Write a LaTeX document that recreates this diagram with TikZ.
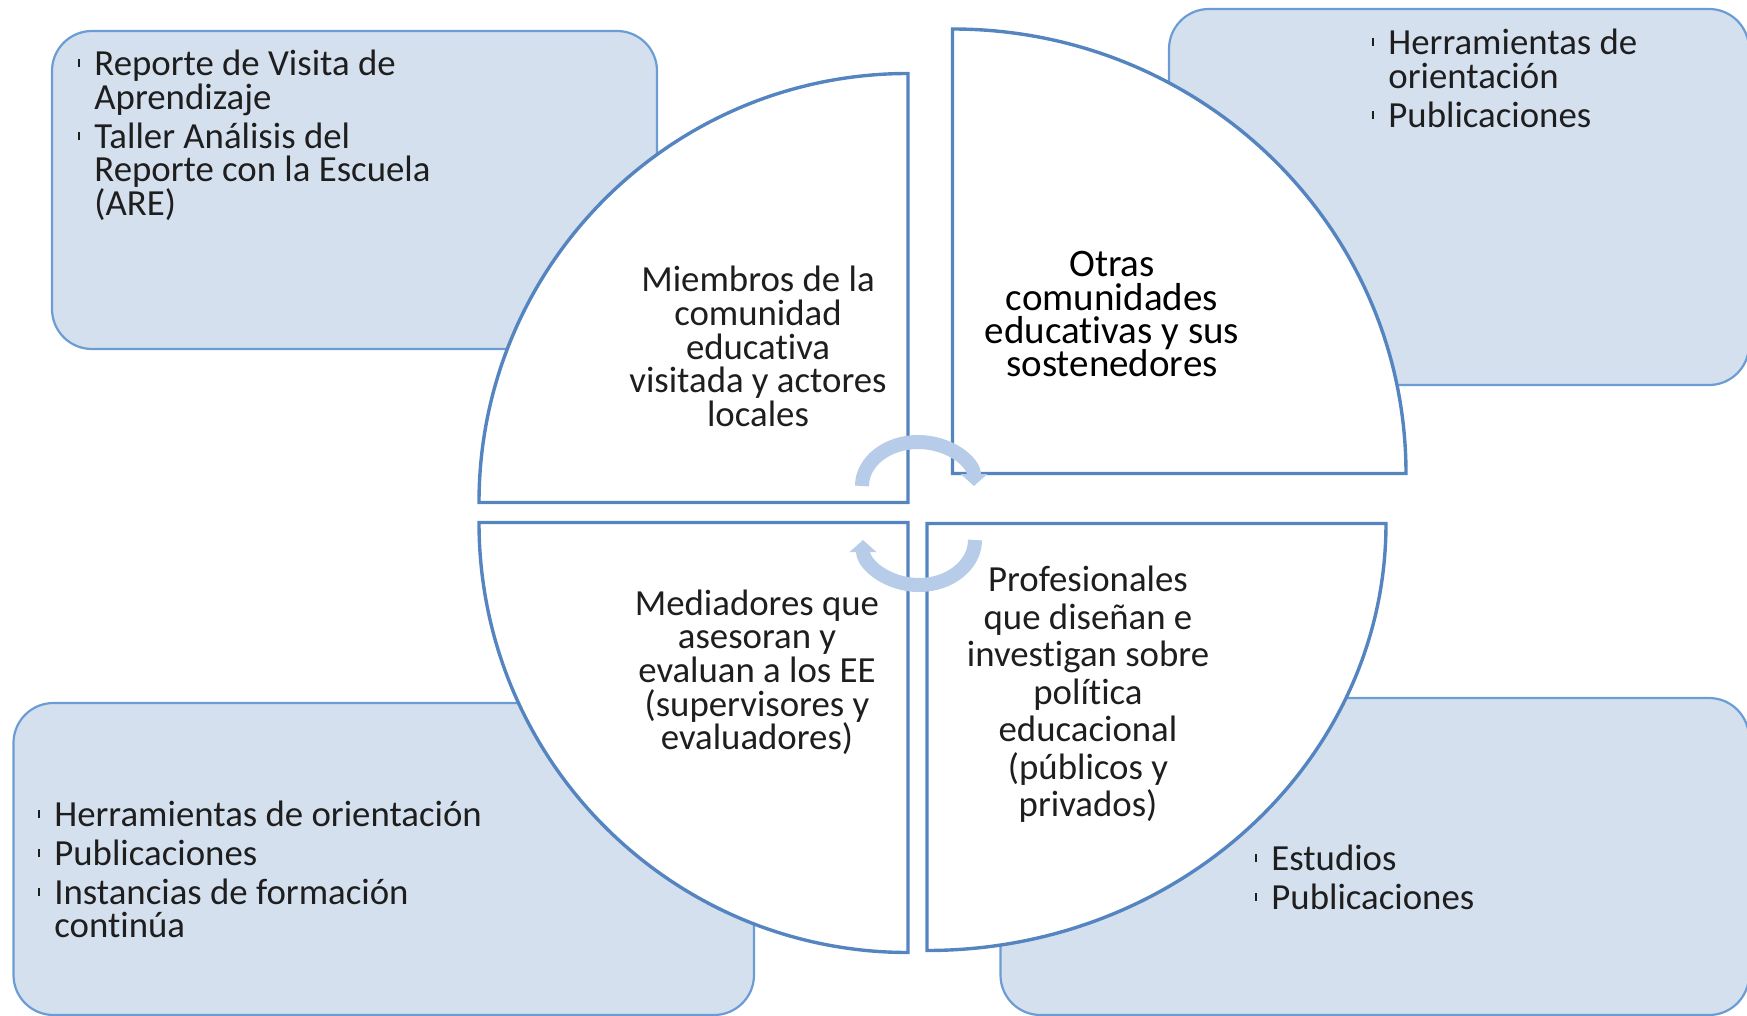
\documentclass[tikz,border=0pt]{standalone}
\usepackage{fontspec}
\setmainfont{Carlito}[Ligatures=NoCommon]
\usetikzlibrary{arrows.meta}
\definecolor{boxfill}{HTML}{D5E0EF}
\definecolor{boxline}{HTML}{6C9CD4}
\definecolor{pieline}{HTML}{5585C0}
\definecolor{cyclefill}{HTML}{B7CCE8}
\definecolor{textdark}{HTML}{1E1E1E}
\newcommand{\tick}{\raisebox{4.2pt}{\rule{0.9pt}{4pt}}\hspace{7.1pt}}
\newcommand{\centerlines}[1]{\vtop{\lineskiplimit=-\maxdimen\halign{\hfil##\hfil\cr#1\crcr}}}
\newcommand{\listlines}[1]{\vtop{\lineskiplimit=-\maxdimen\halign{##\hfil&##\hfil\cr#1\crcr}}}
\newcommand{\itemgap}{\noalign{\vskip2.7pt}}

\begin{document}
\begin{tikzpicture}[x=0.5pt, y=-0.5pt,
  infobox/.style={draw=boxline, fill=boxfill, line width=1.1pt, rounded corners=20pt, inner sep=0pt},
  piece/.style={draw=pieline, fill=white, line width=1.7pt, line join=miter},
  listtext/.style={anchor=base west, inner sep=0pt, text=textdark, font=\fontsize{18.4pt}{16.85pt}\selectfont},
  midtext/.style={anchor=base, inner sep=0pt, text=textdark, font=\fontsize{18.4pt}{16.85pt}\selectfont},
  cyclearrow/.style={cyclefill, line width=7pt, -{Triangle[length=6pt,width=13pt]}}]
  \useasboundingbox (0,0) rectangle (1747,1016);

  \node[infobox, minimum width=302.5pt, minimum height=159pt] (boxTL) at (354.5,190) {};
  \node[infobox, minimum width=290pt, minimum height=188pt] (boxTR) at (1459,197) {};
  \node[infobox, minimum width=370.25pt, minimum height=156pt] (boxBL) at (383.75,859) {};
  \node[infobox, minimum width=374.25pt, minimum height=158.5pt] (boxBR) at (1374.75,856.5) {};

  \coordinate (cTL) at (908,502.5);
  \coordinate (cTR) at (952.5,473.5);
  \coordinate (cBL) at (908,522.5);
  \coordinate (cBR) at (927,523.5);
  \draw[piece] (cTL) -- ++(0,-429) arc[start angle=270, end angle=180, radius=429] -- cycle;
  \draw[piece] (cTR) -- ++(0,-444.5) arc[start angle=270, end angle=360, x radius=453.5, y radius=444.5] -- cycle;
  \draw[piece] (cBL) -- ++(-429,0) arc[start angle=180, end angle=90, x radius=429, y radius=430] -- cycle;
  \draw[piece] (cBR) -- ++(459,0) arc[start angle=0, end angle=90, x radius=459, y radius=427] -- cycle;

  \coordinate (turnA) at (918,486);
  \coordinate (turnB) at (919,540);
  \draw[cyclearrow] ([shift={(-56,0)}]turnA) arc[start angle=180, end angle=360, x radius=56, y radius=44];
  \draw[cyclearrow] ([shift={(56,0)}]turnB) arc[start angle=0, end angle=180, x radius=56, y radius=45];

  \node[midtext] (members) at (758,291.7) {\centerlines{Miembros de la\cr comunidad\cr educativa\cr visitada y actores\cr locales}};
  \node[midtext, text=black, font=\fontsize{19.5pt}{16.7pt}\selectfont] (others) at (1112,276.7) {\centerlines{Otras\cr comunidades\cr educativas y sus\cr sostenedores}};
  \node[midtext] (mediators) at (757,615) {\centerlines{Mediadores que\cr asesoran y\cr evaluan a los EE\cr (supervisores y\cr evaluadores)}};
  \node[midtext, font=\fontsize{18.4pt}{18.75pt}\selectfont] (experts) at (1088,591.7) {\centerlines{Profesionales\cr que diseñan e\cr investigan sobre\cr política\cr educacional\cr (públicos y\cr privados)}};

  \node[listtext] (listTL) at (78,75.5) {\listlines{
    \tick & Reporte de Visita de\cr
          & Aprendizaje\cr\itemgap
    \tick & Taller Análisis del\cr
          & Reporte con la Escuela\cr
          & (ARE)}};
  \node[listtext] (listTR) at (1372,54.5) {\listlines{
    \tick & Herramientas de\cr
          & orientación\cr\itemgap
    \tick & Publicaciones}};
  \node[listtext] (listBL) at (38,826) {\listlines{
    \tick & Herramientas de orientación\cr\itemgap
    \tick & Publicaciones\cr\itemgap
    \tick & Instancias de formación\cr
          & continúa}};
  \node[listtext] (listBR) at (1255,870) {\listlines{
    \tick & Estudios\cr\itemgap
    \tick & Publicaciones}};
\end{tikzpicture}
\end{document}
